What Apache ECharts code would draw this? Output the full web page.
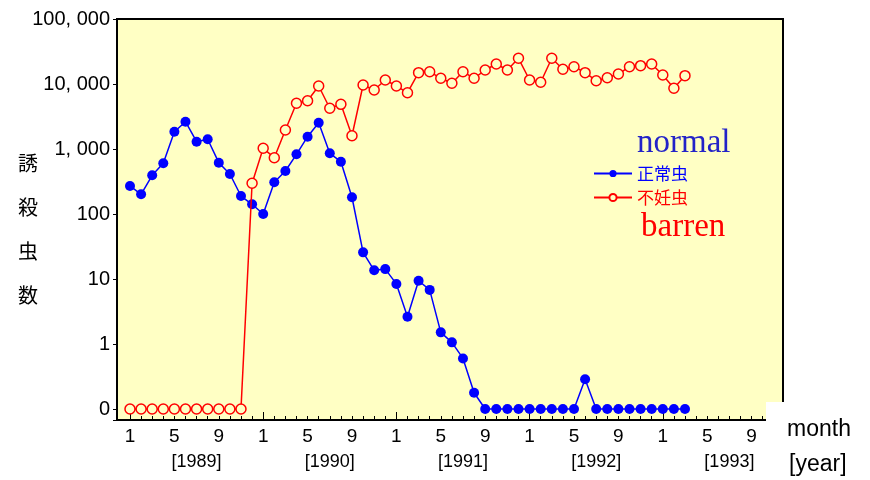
<!DOCTYPE html>
<html>
<head>
<meta charset="utf-8">
<script src="https://cdn.jsdelivr.net/npm/echarts@6/dist/echarts.min.js"></script>
<style>
  html, body { margin: 0; padding: 0; background: #ffffff; }
  #chart { width: 870px; height: 480px; }
</style>
</head>
<body>
<div id="chart"></div>
<script>
// Monthly trap catches; index 0 = January 1989, last = March 1993
const seriesNames = ['正常虫', '不妊虫'];

const normalCounts = [
  270, 201, 394, 603, 1845, 2630, 1295, 1410, 616, 412, 189, 141,      // 1989
  100, 307, 459, 828, 1548, 2540, 858, 638, 181, 25.7, 13.6, 14.2,     // 1990
  8.4, 2.63, 9.4, 6.8, 1.51, 1.06, 0.6, 0.178, 0, 0, 0, 0,             // 1991
  0, 0, 0, 0, 0, 0.286, 0, 0, 0, 0, 0, 0,                              // 1992
  0, 0, 0                                                              // 1993
];

const barrenCounts = [
  0, 0, 0, 0, 0, 0, 0, 0, 0, 0, 0, 297,                                          // 1989
  1025, 735, 1960, 5050, 5530, 9310, 4230, 4870, 1600, 9660, 8090, 11530,        // 1990
  9310, 7350, 14930, 15460, 12240, 10250, 15460, 12240, 16420, 20300, 16420, 24850, // 1991
  11530, 10620, 24850, 16830, 18460, 14930, 11240, 12500, 14250, 18460, 19130, 20300, // 1992
  13750, 8590, 13430                                                             // 1993
];

// Axis labels
const yTickValues = [0.1, 1, 10, 100, 1000, 10000, 100000];
const yTickLabels = ['0', '1', '10', '100', '1, 000', '10, 000', '100, 000'];
const monthLabelIdx = [0, 4, 8, 12, 16, 20, 24, 28, 32, 36, 40, 44, 48, 52, 56];
const monthLabels = ['1', '5', '9', '1', '5', '9', '1', '5', '9', '1', '5', '9', '1', '5', '9'];
const yearLabelIdx = [6, 18, 30, 42, 54];
const yearLabels = ['[1989]', '[1990]', '[1991]', '[1992]', '[1993]'];
const yearStartIdx = [0, 12, 24, 36, 48];

// a count of zero sits on the "0" row, one decade under 1
const zeroLevel = 0.1;
const toPoints = arr => arr.map((v, i) => [i, v === 0 ? zeroLevel : v]);

const monthTickIdx = [];
for (let i = 0; i <= 58; i++) monthTickIdx.push(i);

const BG = '#ffffc4';
const LABEL_FONT = 'Liberation Sans, Arial, sans-serif';
const xMin = -1.17, xMax = 58.83;

const chart = echarts.init(document.getElementById('chart'), null, { renderer: 'canvas' });

chart.setOption({
  backgroundColor: '#ffffff',
  animation: false,
  grid: {
    left: 117, right: 87, top: 19, bottom: 60,
    show: true, backgroundColor: BG, borderColor: '#000', borderWidth: 2
  },
  xAxis: [
    {
      type: 'value', min: xMin, max: xMax, position: 'bottom',
      axisLine: { onZero: false, lineStyle: { color: '#000', width: 2 } },
      axisTick: { show: true, inside: true, length: 4, customValues: monthTickIdx,
                  lineStyle: { color: '#000', width: 1 } },
      axisLabel: {
        customValues: monthLabelIdx, margin: 7, color: '#000',
        fontFamily: LABEL_FONT, fontSize: 19,
        formatter: v => {
          const k = monthLabelIdx.indexOf(Math.round(v));
          return k >= 0 ? monthLabels[k] : '';
        }
      },
      splitLine: { show: false }
    },
    {
      type: 'value', min: xMin, max: xMax, position: 'bottom',
      axisLine: { show: false, onZero: false },
      axisTick: { show: true, inside: true, length: 8, customValues: yearStartIdx,
                  lineStyle: { color: '#000', width: 1 } },
      axisLabel: {
        customValues: yearLabelIdx, margin: 33, color: '#000',
        fontFamily: LABEL_FONT, fontSize: 18,
        formatter: v => {
          const k = yearLabelIdx.indexOf(Math.round(v));
          return k >= 0 ? yearLabels[k] : '';
        }
      },
      splitLine: { show: false }
    }
  ],
  yAxis: {
    type: 'log', logBase: 10,
    min: zeroLevel / Math.pow(10, 11 / 65), max: 100000,
    axisLine: { show: true, onZero: false, lineStyle: { color: '#000', width: 2 } },
    axisTick: { show: true, inside: false, length: 4, lineStyle: { color: '#000' } },
    axisLabel: {
      margin: 7, color: '#000', fontFamily: LABEL_FONT, fontSize: 20,
      formatter: v => {
        const e = Math.log10(v);
        if (Math.abs(e - Math.round(e)) > 1e-6) return '';
        const k = yTickValues.findIndex(t => Math.abs(Math.log10(t) - e) < 1e-6);
        return k >= 0 ? yTickLabels[k] : '';
      }
    },
    splitLine: { show: false }
  },
  legend: {
    orient: 'vertical', left: 588, top: 160,
    itemWidth: 38, itemHeight: 9, itemGap: 7,
    textStyle: { fontSize: 17, fontFamily: 'Noto Sans CJK JP, sans-serif' },
    data: [
      { name: seriesNames[0], textStyle: { color: '#0000ff' } },
      { name: seriesNames[1], textStyle: { color: '#ff0000' } }
    ]
  },
  series: [
    {
      name: seriesNames[0], type: 'line', xAxisIndex: 0,
      data: toPoints(normalCounts),
      symbol: 'circle', symbolSize: 10,
      lineStyle: { color: '#0000ff', width: 1.5 },
      itemStyle: { color: '#0000ff' },
      z: 3
    },
    {
      name: seriesNames[1], type: 'line', xAxisIndex: 0,
      data: toPoints(barrenCounts),
      symbol: 'circle', symbolSize: 10,
      lineStyle: { color: '#ff0000', width: 1.5 },
      itemStyle: { color: BG, borderColor: '#ff0000', borderWidth: 1.5 },
      z: 4
    }
  ],
  graphic: [
    {
      type: 'text', left: 18, top: 141, z: 10,
      style: { text: '誘\n殺\n虫\n数', font: '20px "Noto Sans CJK JP", sans-serif',
               fill: '#000', lineHeight: 44 }
    },
    {
      type: 'text', z: 10,
      style: { text: 'normal', x: 637, y: 143, textVerticalAlign: 'middle',
               font: '33px "Liberation Serif", "Times New Roman", serif', fill: '#2323c8' }
    },
    {
      type: 'text', z: 10,
      style: { text: 'barren', x: 641, y: 227, textVerticalAlign: 'middle',
               font: '33px "Liberation Serif", "Times New Roman", serif', fill: '#ff0000' }
    },
    {
      type: 'rect', z: 20,
      shape: { x: 766, y: 402, width: 104, height: 78 },
      style: { fill: '#ffffff' }
    },
    {
      type: 'text', z: 21,
      style: { text: 'month', x: 787, y: 430, textVerticalAlign: 'middle',
               font: '23px "Liberation Sans", Arial, sans-serif', fill: '#000' }
    },
    {
      type: 'text', z: 21,
      style: { text: '[year]', x: 789, y: 465, textVerticalAlign: 'middle',
               font: '23px "Liberation Sans", Arial, sans-serif', fill: '#000' }
    }
  ]
});
</script>
</body>
</html>
